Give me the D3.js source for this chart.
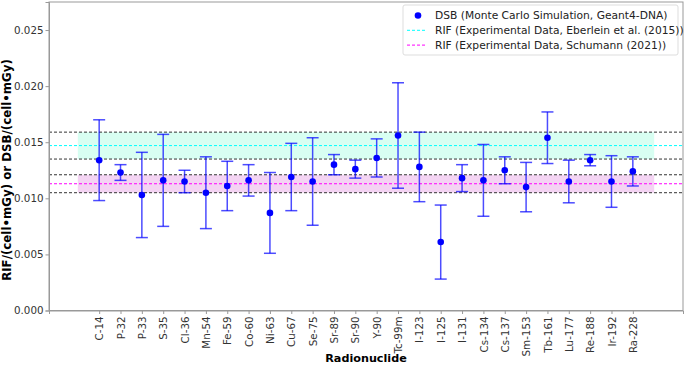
<!DOCTYPE html>
<html lang="en">
<head>
<meta charset="utf-8" />
<title>DSB vs RIF per radionuclide</title>
<script src="https://cdn.jsdelivr.net/npm/d3@7"></script>
<style>
    body { margin: 0; background: #fff; }
    svg text { font-family: "DejaVu Sans", sans-serif; }
    .axis path, .axis line { stroke: #999; }
    .axis text { fill: #333; font-size: 10.3px; }
</style>
</head>
<body>
<script>
    // radionuclides along the x axis
    let nuclides = ['C-14', 'P-32', 'P-33', 'S-35', 'Cl-36', 'Mn-54', 'Fe-59', 'Co-60', 'Ni-63',
        'Cu-67', 'Se-75', 'Sr-89', 'Sr-90', 'Y-90', 'Tc-99m', 'I-123', 'I-125', 'I-131',
        'Cs-134', 'Cs-137', 'Sm-153', 'Tb-161', 'Lu-177', 'Re-188', 'Ir-192', 'Ra-228'];

    // DSB per cell per mGy (simulation) and its error
    let dsb = [0.0134, 0.0123, 0.0103, 0.0116, 0.0115, 0.0105, 0.0111, 0.0116, 0.0087,
        0.0119, 0.0115, 0.0130, 0.0126, 0.0136, 0.0156, 0.0128, 0.0061, 0.0118,
        0.0116, 0.0125, 0.0110, 0.0154, 0.0115, 0.0134, 0.0115, 0.0124];
    let dsbErr = [0.0036, 0.0007, 0.0038, 0.0041, 0.0010, 0.0032, 0.0022, 0.0014, 0.0036,
        0.0030, 0.0039, 0.0009, 0.0008, 0.0017, 0.0047, 0.0031, 0.0033, 0.0012,
        0.0032, 0.0012, 0.0022, 0.0023, 0.0019, 0.0005, 0.0023, 0.0013];

    // experimental RIF values: mean and uncertainty
    let rifEberlein = { mean: 0.0147, err: 0.0012 };
    let rifSchumann = { mean: 0.0113, err: 0.0008 };

    let yTicks = [0, 0.005, 0.010, 0.015, 0.020, 0.025];

    let width = 685, height = 366;
    let margin = { top: 2, right: 2, bottom: 55.5, left: 49 };
    let w = width - margin.left - margin.right,
        h = height - margin.top - margin.bottom;

    let svg = d3.select('body').append('svg')
        .attr('width', width)
        .attr('height', height);

    let g = svg.append('g')
        .attr('transform', `translate(${margin.left},${margin.top})`);

    // categorical positions 0..n-1, with band region [-1, n] and 5% margins
    let n = nuclides.length;
    let x = d3.scaleLinear().domain([-2.35, n + 1.35]).range([0, w]);
    let y = d3.scaleLinear().domain([0, 0.0275]).range([h, 0]);

    // shaded bands
    [[rifEberlein, 'aquamarine'], [rifSchumann, 'orchid']].forEach(([r, c]) => {
        g.append('rect')
            .attr('x', x(-1))
            .attr('width', x(n) - x(-1))
            .attr('y', y(r.mean + r.err))
            .attr('height', y(r.mean - r.err) - y(r.mean + r.err))
            .style('fill', c)
            .style('opacity', 0.3);
    });

    // dashed boundary lines (full width)
    let bounds = [rifEberlein.mean + rifEberlein.err, rifEberlein.mean - rifEberlein.err,
        rifSchumann.mean + rifSchumann.err, rifSchumann.mean - rifSchumann.err];
    g.selectAll('.bound')
        .data(bounds)
        .enter().append('line')
        .attr('class', 'bound')
        .attr('x1', 0).attr('x2', w)
        .attr('y1', d => y(d)).attr('y2', d => y(d))
        .style('stroke', '#333')
        .style('stroke-width', 1)
        .style('stroke-dasharray', '3,2');

    // mean lines
    [[rifEberlein.mean, 'cyan'], [rifSchumann.mean, 'magenta']].forEach(([m, c]) => {
        g.append('line')
            .attr('x1', 0).attr('x2', w)
            .attr('y1', y(m)).attr('y2', y(m))
            .style('stroke', c)
            .style('stroke-width', 1)
            .style('stroke-dasharray', '3,2');
    });

    // axes
    let xAxis = d3.axisBottom(x)
        .tickValues(d3.range(n))
        .tickFormat(i => nuclides[i])
        .tickSizeOuter(0)
        .tickSize(3.5);
    let xg = g.append('g')
        .attr('class', 'axis')
        .attr('transform', `translate(0,${h})`)
        .call(xAxis);
    xg.selectAll('text')
        .attr('transform', 'rotate(-90)')
        .attr('x', -6)
        .attr('y', 0)
        .attr('dy', '0.35em')
        .style('text-anchor', 'end');

    let yAxis = d3.axisLeft(y)
        .tickValues(yTicks)
        .tickFormat(d3.format('.3f'))
        .tickSizeOuter(0)
        .tickSize(3.5)
        .tickPadding(2);
    g.append('g')
        .attr('class', 'axis')
        .call(yAxis);

    // frame (top and right spines)
    g.append('rect')
        .attr('width', w).attr('height', h)
        .style('fill', 'none')
        .style('stroke', '#999');

    // error bars
    let points = nuclides.map((d, i) => ({ i: i, v: dsb[i], e: dsbErr[i] }));
    let eb = g.selectAll('.errbar')
        .data(points)
        .enter().append('g')
        .attr('class', 'errbar')
        .style('stroke', 'blue')
        .style('stroke-opacity', 0.7)
        .style('stroke-width', 1.5);
    eb.append('line')
        .attr('x1', d => x(d.i)).attr('x2', d => x(d.i))
        .attr('y1', d => y(d.v + d.e)).attr('y2', d => y(d.v - d.e));
    eb.append('line')
        .attr('x1', d => x(d.i) - 6).attr('x2', d => x(d.i) + 6)
        .attr('y1', d => y(d.v + d.e)).attr('y2', d => y(d.v + d.e));
    eb.append('line')
        .attr('x1', d => x(d.i) - 6).attr('x2', d => x(d.i) + 6)
        .attr('y1', d => y(d.v - d.e)).attr('y2', d => y(d.v - d.e));

    g.selectAll('.dot')
        .data(points)
        .enter().append('circle')
        .attr('class', 'dot')
        .attr('cx', d => x(d.i))
        .attr('cy', d => y(d.v))
        .attr('r', 3.3)
        .style('fill', 'blue');

    // axis labels
    svg.append('text')
        .attr('x', margin.left + w / 2)
        .attr('y', 362)
        .style('text-anchor', 'middle')
        .style('font-size', '11.2px')
        .style('font-weight', 'bold')
        .text('Radionuclide');

    svg.append('text')
        .attr('transform', 'translate(7,170) rotate(-90)')
        .style('text-anchor', 'middle')
        .style('font-size', '11.8px')
        .style('font-weight', 'bold')
        .attr('dy', '0.35em')
        .text('RIF/(cell\u2022mGy) or DSB/(cell\u2022mGy)');

    // legend
    let legend = svg.append('g').attr('transform', 'translate(403,5)');
    legend.append('rect')
        .attr('width', 275).attr('height', 50)
        .attr('rx', 2)
        .style('fill', 'white')
        .style('fill-opacity', 0.8)
        .style('stroke', '#ddd');
    let items = [
        { label: 'DSB (Monte Carlo Simulation, Geant4-DNA)', type: 'dot', color: 'blue' },
        { label: 'RIF (Experimental Data, Eberlein et al. (2015))', type: 'line', color: 'cyan' },
        { label: 'RIF (Experimental Data, Schumann (2021))', type: 'line', color: 'magenta' }
    ];
    let li = legend.selectAll('.item')
        .data(items)
        .enter().append('g')
        .attr('transform', (d, i) => `translate(0,${10.5 + i * 14.8})`);
    li.filter(d => d.type === 'dot').append('circle')
        .attr('cx', 15).attr('cy', 0).attr('r', 3.3)
        .style('fill', d => d.color);
    li.filter(d => d.type === 'line').append('line')
        .attr('x1', 4).attr('x2', 24)
        .style('stroke', d => d.color)
        .style('stroke-dasharray', '3,2');
    li.append('text')
        .attr('x', 32)
        .attr('dy', '0.35em')
        .style('font-size', '10.7px')
        .style('fill', '#222')
        .text(d => d.label);
</script>
</body>
</html>
